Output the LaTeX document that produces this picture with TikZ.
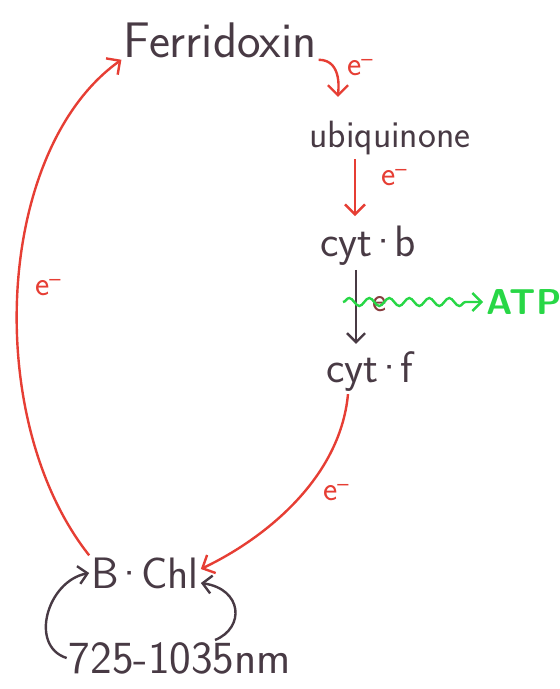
\documentclass[tikz,border=0pt]{standalone}
\usepackage{amsmath}
\usetikzlibrary{positioning, arrows.meta, decorations.pathmorphing}

\definecolor{pen}{RGB}{72,58,68}
\definecolor{redpen}{RGB}{230,62,52}
\definecolor{greenpen}{RGB}{40,215,70}

\newcommand{\cdt}{\kern-5pt·\kern-5pt}

\tikzset{
  species/.style={text=pen, font=\sffamily\fontsize{44}{48}\selectfont, inner sep=2pt},
  elabel/.style={text=redpen, font=\sffamily\fontsize{34}{38}\selectfont, inner sep=1pt},
  flow/.style={draw=redpen, line width=2.4pt, -{Straight Barb[length=10pt,width=20pt]}},
  darkflow/.style={draw=pen, line width=2.4pt, -{Straight Barb[length=9pt,width=18pt]}}
}

\begin{document}
\begin{tikzpicture}[x=1pt,y=-1pt]
  \useasboundingbox (0,0) rectangle (560,689);
  \node [species, font=\sffamily\fontsize{50}{54}\selectfont] (fd) at (220,40) {Ferridoxin};
  \node [species, font=\sffamily\fontsize{38}{42}\selectfont] (uq) at (390,138) {ubiquinone};
  \node [species] (cytb) at (368,246) {cyt\cdt b};
  \node [species] (cytf) at (370,372) {cyt\cdt f};
  \node [species] (bchl) at (145,573) {B\cdt Chl};
  \node [species, font=\sffamily\fontsize{46}{50}\selectfont] (nm) at (180,658) {725-1035nm};
  \node [text=greenpen, font=\sffamily\bfseries\fontsize{36}{40}\selectfont] (atp) at (524,302) {ATP};
  \coordinate (w) at (343,302);
  % electron labels
  \node [elabel] (e1) at (360,68) {e\textsuperscript{--}};
  \node [elabel] (e2) at (394,178) {e\textsuperscript{--}};
  \node [elabel, text=pen!60!redpen] (e3) at (380,304) {e};
  \node [elabel] (e4) at (336,493) {e\textsuperscript{--}};
  \node [elabel] (e5) at (48,288) {e\textsuperscript{--}};
  % chain
  \draw [flow, shorten >=22pt] (fd.south east) .. controls +(25,0) and +(0,-25) .. (uq.north -| 338,0);
  \draw [flow, shorten <=2pt, shorten >=8pt] (uq.south -| 355,0) -- (cytb.north -| 355,0);
  \draw [darkflow, shorten <=2pt, shorten >=6pt] (cytb.south -| 356,0) -- (cytf.north -| 356,0);
  \draw [greenpen, line width=2.4pt, decorate,
         decoration={snake, amplitude=4pt, segment length=20pt, post length=10pt},
         -{Straight Barb[length=9pt,width=18pt]}] (w) -- (atp.west);
  \draw [flow] ([xshift=-22pt]cytf.south) .. controls (340,480) and (262,540) .. ([yshift=4pt]bchl.east);
  \draw [flow] (bchl.north west) .. controls (-18,420) and (-5,150) .. (fd.south west);
  % absorption
  \draw [darkflow] (nm.west) .. controls +(-38,-12) and +(-42,8) .. (bchl.west);
  \draw [darkflow] ([xshift=35pt]nm.north) .. controls +(30,-12) and +(42,6) .. ([yshift=-10pt]bchl.east);
\end{tikzpicture}
\end{document}
